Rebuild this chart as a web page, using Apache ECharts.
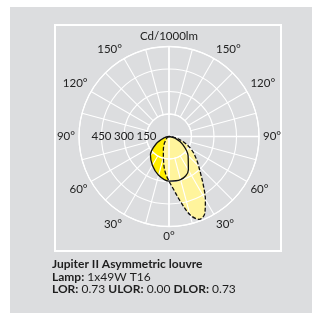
<!DOCTYPE html>
<html>
<head>
<meta charset="utf-8">
<script src="https://cdn.jsdelivr.net/npm/echarts@6/dist/echarts.min.js"></script>
<style>
  html, body { margin: 0; padding: 0; background: #fff; }
  #chart { width: 312px; height: 313px; }
</style>
</head>
<body>
<div id="chart"></div>
<script>
// gamma angles (deg, negative = left half) and intensities in cd/1000lm
const gammaSolid = [-90, -75, -60, -45, -30, -15, 0, 15, 30, 45, 60, 75, 90];
const solidCd    = [0, 32, 100, 175, 222, 268, 298, 298, 258, 180, 105, 42, 0];

const gammaDashed = [-90, -60, -45, -30, -20, -10, -5, 0, 5, 10, 15, 20, 25, 30, 35, 40, 50, 60, 70, 80, 90];
const dashedCd    = [0, 12, 28, 70, 110, 195, 250, 297, 355, 440, 540, 588, 565, 485, 400, 330, 240, 172, 98, 38, 0];

const ringTicks = [150, 300, 450, 600];   // radial grid, cd/1000lm
const unitLabel = 'Cd/1000lm';

const toPairs = (ang, val) => ang.map((a, i) => [val[i], a]);

const GREY = '#dcdddf';
const font = 'Lato, "DejaVu Sans", sans-serif';

const chart = echarts.init(document.getElementById('chart'));

// angle formatter: polar runs -90 (left) .. 0 (bottom) .. 180 (top) .. 270
function angleLabel(v) {
    if (v === 270) return '';
    if (v % 30 !== 0) return '';
    let g = v > 180 ? v - 360 : v;
    if (g === 180) return unitLabel;
    return Math.abs(g) + '°';
}

const option = {
    animation: false,
    graphic: [
        { type: 'rect', z: -10, silent: true,
          shape: { x: 10, y: 7, width: 302, height: 306 }, style: { fill: GREY } },
        { type: 'rect', z: -9, silent: true,
          shape: { x: 55, y: 25, width: 226, height: 226 },
          style: { fill: 'none', stroke: '#fff', lineWidth: 2 } },
        { type: 'text', left: 52, top: 258, z: 20,
          style: {
              text: '{b|Jupiter II Asymmetric louvre}\n{b|Lamp:} 1x49W T16\n{b|LOR:} 0.73 {b|ULOR:} 0.00 {b|DLOR:} 0.73',
              font: '12px ' + font, fill: '#1e1e1e', lineHeight: 12.5,
              rich: { b: { fontWeight: 'bold', fontSize: 12, fontFamily: font, fill: '#1e1e1e', lineHeight: 12.5 } }
          } }
    ],
    polar: [
        { center: [169, 136.5], radius: [0, 90] },
        { center: [169, 136.5], radius: [22.5, 90] }
    ],
    angleAxis: [
        {   // data polar: only the main cross lines through the centre
            polarIndex: 0, type: 'value', min: -90, max: 270, interval: 90,
            startAngle: 180, clockwise: false, z: 3,
            axisLine: { show: false }, axisTick: { show: false }, axisLabel: { show: false },
            splitLine: { lineStyle: { color: ['rgba(0,0,0,0)', '#fff', '#fff', '#fff'], width: 1.6 } }
        },
        {   // grid polar: 15 deg spokes starting at the 150 ring
            polarIndex: 1, type: 'value', min: -90, max: 270, interval: 15,
            startAngle: 180, clockwise: false, z: 3,
            axisLine: { lineStyle: { color: '#fff', width: 1.3 } },
            axisTick: { show: false },
            axisLabel: { margin: 4, formatter: angleLabel, color: '#222', fontSize: 11.5, fontFamily: font },
            splitLine: { lineStyle: {
                color: ['rgba(0,0,0,0)'].concat(new Array(23).fill('#fff')), width: 1.1 } }
        }
    ],
    radiusAxis: [
        {   polarIndex: 0, type: 'value', min: 0, max: 600, z: 3,
            axisLine: { show: false }, axisTick: { show: false },
            axisLabel: { show: false }, splitLine: { show: false } },
        {   polarIndex: 1, type: 'value', min: ringTicks[0], max: ringTicks[ringTicks.length - 1],
            interval: ringTicks[1] - ringTicks[0], z: 4,
            axisLine: { show: false }, axisTick: { show: false },
            axisLabel: { margin: 0, align: 'center', verticalAlign: 'middle',
                         formatter: v => (v === 600 ? '' : String(v)),
                         color: '#222', fontSize: 11.5, fontFamily: font },
            splitLine: { lineStyle: { color: '#fff', width: 1.1 } } }
    ],
    series: [
        {   type: 'line', coordinateSystem: 'polar', polarIndex: 0, z: 1,
            data: toPairs(gammaSolid, solidCd), smooth: 0.35, showSymbol: false,
            lineStyle: { width: 0 }, areaStyle: { color: '#ffee00', opacity: 1 } },
        {   type: 'line', coordinateSystem: 'polar', polarIndex: 0, z: 2,
            data: toPairs(gammaDashed, dashedCd), smooth: 0.35, showSymbol: false,
            lineStyle: { width: 0 }, areaStyle: { color: '#fff49c', opacity: 1 } },
        {   type: 'line', coordinateSystem: 'polar', polarIndex: 0, z: 6,
            data: toPairs(gammaSolid, solidCd), smooth: 0.35, showSymbol: false,
            lineStyle: { color: '#111', width: 1.3 } },
        {   type: 'line', coordinateSystem: 'polar', polarIndex: 0, z: 6,
            data: toPairs(gammaDashed, dashedCd), smooth: 0.35, showSymbol: false,
            lineStyle: { color: '#111', width: 1.3, type: [4, 2] } }
    ]
};

chart.setOption(option);
</script>
</body>
</html>
